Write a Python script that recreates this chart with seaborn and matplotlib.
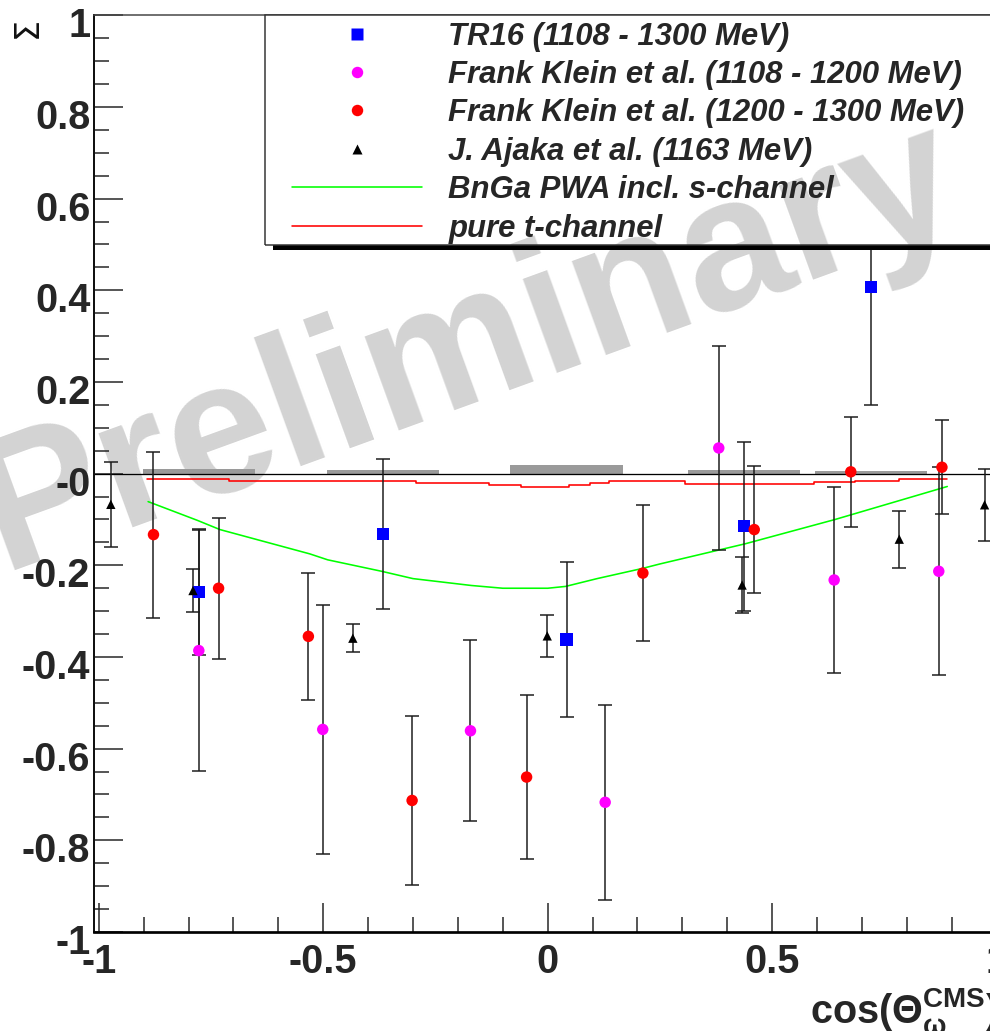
import numpy as np
import matplotlib
matplotlib.use("Agg")
import matplotlib.pyplot as plt
import matplotlib.transforms as mtransforms
from matplotlib.patches import Rectangle
from matplotlib.lines import Line2D
from matplotlib.ticker import MultipleLocator
from matplotlib.font_manager import FontProperties
import seaborn as sns

sns.set_style("ticks")
plt.rcParams.update({
    "font.family": ["Liberation Sans", "DejaVu Sans"],
    "axes.unicode_minus": False,
    "mathtext.fontset": "custom",
    "mathtext.rm": "Liberation Sans:bold",
    "mathtext.it": "Liberation Sans:bold",
    "mathtext.bf": "Liberation Sans:bold",
    "mathtext.default": "rm",
})

# ---- photon beam asymmetry Sigma vs cos(theta_omega) ----
tr16_x = [-0.777, -0.366, 0.042, 0.438, 0.720]
tr16_y = [-0.258, -0.131, -0.362, -0.115, 0.407]
tr16_err = [0.137, 0.164, 0.170, 0.184, 0.258]
tr16_sys = [0.011, 0.007, 0.018, 0.009, 0.005]
tr16_binwidth = 0.25

klein_low_x = [-0.777, -0.501, -0.172, 0.128, 0.381, 0.638, 0.871]
klein_low_y = [-0.386, -0.558, -0.561, -0.717, 0.056, -0.232, -0.213]
klein_low_err = [0.262, 0.272, 0.197, 0.213, 0.222, 0.202, 0.227]

klein_high_x = [-0.878, -0.733, -0.533, -0.302, -0.047, 0.212, 0.460, 0.675, 0.878]
klein_high_y = [-0.133, -0.250, -0.355, -0.713, -0.662, -0.217, -0.122, 0.004, 0.014]
klein_high_err = [0.181, 0.154, 0.139, 0.185, 0.179, 0.149, 0.138, 0.120, 0.102]

ajaka_x = [-0.973, -0.790, -0.434, -0.001, 0.433, 0.783, 0.973]
ajaka_y = [-0.067, -0.255, -0.359, -0.354, -0.243, -0.143, -0.068]
ajaka_err = [0.092, 0.047, 0.031, 0.045, 0.061, 0.062, 0.078]

bnga_x = [-0.89, -0.78, -0.73, -0.53, -0.49, -0.37, -0.30, -0.17, -0.10,
          0.00, 0.04, 0.11, 0.21, 0.25, 0.44, 0.64, 0.89]
bnga_y = [-0.061, -0.102, -0.122, -0.175, -0.188, -0.213, -0.229, -0.244, -0.250,
          -0.250, -0.246, -0.229, -0.207, -0.197, -0.153, -0.100, -0.028]

tchan_edges = [-0.892, -0.71, -0.293, -0.130, -0.060, 0.047, 0.094, 0.137,
               0.306, 0.399, 0.594, 0.685, 0.783, 0.889]
tchan_vals = [-0.011, -0.016, -0.0205, -0.0255, -0.029, -0.0255, -0.0205, -0.017,
              -0.022, -0.0234, -0.019, -0.016, -0.011]

legend_labels = ["TR16 (1108 - 1300 MeV)",
                 "Frank Klein et al. (1108 - 1200 MeV)",
                 "Frank Klein et al. (1200 - 1300 MeV)",
                 "J. Ajaka et al. (1163 MeV)",
                 "BnGa PWA incl. s-channel",
                 "pure t-channel"]

y_ticks = [-1.0, -0.8, -0.6, -0.4, -0.2, 0.0, 0.2, 0.4, 0.6, 0.8, 1.0]
y_ticklabels = ["-1", "-0.8", "-0.6", "-0.4", "-0.2", "-0", "0.2", "0.4", "0.6", "0.8", "1"]
x_ticks = [-1.0, -0.5, 0.0, 0.5, 1.0]
x_ticklabels = ["-1", "-0.5", "0", "0.5", "1"]

# ---- figure / frame ----
W, H, DPI = 990, 1031, 100
fig = plt.figure(figsize=(W / DPI, H / DPI), dpi=DPI, facecolor="white")
PT = 72.0 / DPI  # points per pixel

ax_l, ax_r, ax_t, ax_b = 94.3, 1001.1, 15.3, 932.0
ax = fig.add_axes([ax_l / W, (H - ax_b) / H, (ax_r - ax_l) / W, (ax_b - ax_t) / H])
ax.set_facecolor("none")
ax.set_xlim(-1.0098, 1.0098)
ax.set_ylim(-1.0, 1.0)

# watermark behind everything
wm_kw = dict(fontsize=136, fontweight="bold", color="#d3d3d3", rotation=20,
             rotation_mode="anchor", ha="center", va="baseline",
             family="Liberation Sans")
wm_pos = (485 / W, 1 - 394 / H)
fig.text(wm_pos[0], wm_pos[1], "Preliminary", zorder=-1, **wm_kw)

# systematic error blocks of TR16
ax.bar(tr16_x, tr16_sys, width=tr16_binwidth, bottom=0, color="#9a9a9a",
       linewidth=0, zorder=1.5)
ax.axhline(0, color="black", lw=1.3 * PT, zorder=2)

# model curves
sns.lineplot(x=bnga_x, y=bnga_y, color="#00ff00", lw=1.6 * PT, sort=False,
             estimator=None, ax=ax, legend=False, zorder=2.5)
sns.lineplot(x=tchan_edges, y=tchan_vals + [tchan_vals[-1]], color="#ff0000",
             lw=1.6 * PT, sort=False, estimator=None, drawstyle="steps-post",
             ax=ax, legend=False, zorder=2.5)

# data with statistical errors
series = [
    (tr16_x, tr16_y, tr16_err, "s", "#0000ff", 78),
    (klein_low_x, klein_low_y, klein_low_err, "o", "#ff00ff", 68),
    (klein_high_x, klein_high_y, klein_high_err, "o", "#ff0000", 68),
    (ajaka_x, ajaka_y, ajaka_err, "^", "#000000", 45),
]
for xs, ys, es, mk, col, sz in series:
    ax.errorbar(xs, ys, yerr=es, fmt="none", ecolor="#1a1a1a",
                elinewidth=1.5 * PT, capsize=7 * PT, capthick=1.5 * PT, zorder=3)
for xs, ys, es, mk, col, sz in series:
    sns.scatterplot(x=xs, y=ys, marker=mk, s=sz, color=col, edgecolor="none",
                    linewidth=0, ax=ax, legend=False, zorder=4)

# ---- axes styling ----
ax.spines["right"].set_visible(False)
ax.spines["top"].set_linewidth(1.5 * PT)
ax.spines["top"].set_color("#444444")
ax.spines["left"].set_linewidth(2.0 * PT)
ax.spines["left"].set_color("#111111")
ax.spines["bottom"].set_linewidth(2.7 * PT)
ax.spines["bottom"].set_color("#000000")

ax.set_xticks(x_ticks)
ax.set_xticklabels(x_ticklabels)
ax.set_yticks(y_ticks)
ax.set_yticklabels(y_ticklabels)
ax.xaxis.set_minor_locator(MultipleLocator(0.1))
ax.yaxis.set_minor_locator(MultipleLocator(0.05))
ax.tick_params(which="both", direction="in", top=False, right=False,
               color="#222222", width=1.5 * PT)
ax.tick_params(which="major", length=29 * PT)
ax.tick_params(which="minor", length=15 * PT)
ax.tick_params(axis="y", which="major", pad=4 * PT)
ax.tick_params(axis="x", which="major", pad=11 * PT)
tick_font = dict(family="Liberation Sans", weight="bold", size=28.5)
for lab in ax.get_xticklabels() + ax.get_yticklabels():
    lab.set_fontproperties(FontProperties(**tick_font))
shift = mtransforms.ScaledTranslation(0, -7 / DPI, fig.dpi_scale_trans)
for lab in ax.get_yticklabels():
    lab.set_transform(lab.get_transform() + shift)

ax.set_xlabel("")
ax.set_ylabel("")
fig.text(27 / W, 1 - 28 / H, "Σ", rotation=90, ha="center", va="center",
         fontsize=24, family="DejaVu Sans", color="#111111")
fig.text(810 / W, 1 - 1023 / H, "cos(Θ$_{ω}^{CMS}$)", ha="left", va="baseline",
         fontsize=28.5, fontweight="bold", family="Liberation Sans")

# ---- legend box with shadow ----
lg_l = (265.3 - ax_l) / (ax_r - ax_l)
lg_b = (ax_b - 245.0) / (ax_b - ax_t)
dx, dy = 8 / (ax_r - ax_l), 5 / (ax_b - ax_t)
ax.add_patch(Rectangle((lg_l + dx, lg_b - dy), 1.2, 1 - lg_b, transform=ax.transAxes,
                       facecolor="black", edgecolor="none", clip_on=False, zorder=5))
box = Rectangle((lg_l, lg_b), 1.2, 1 - lg_b, transform=ax.transAxes,
                facecolor="white", edgecolor="none", clip_on=False, zorder=6)
ax.add_patch(box)
wm2 = ax.text(wm_pos[0], wm_pos[1], "Preliminary", transform=fig.transFigure,
              zorder=6.5, **wm_kw)
wm2.set_clip_box(mtransforms.TransformedBbox(
    mtransforms.Bbox([[lg_l, lg_b], [1.2, 1.0]]), ax.transAxes))
wm2.set_clip_on(True)
ax.add_patch(Rectangle((lg_l, lg_b), 1.2, 1 - lg_b, transform=ax.transAxes,
                       facecolor="none", edgecolor="#333333", lw=1.5 * PT,
                       clip_on=False, zorder=7))

handles = [
    Line2D([], [], ls="none", marker="s", ms=np.sqrt(78), color="#0000ff", mec="none"),
    Line2D([], [], ls="none", marker="o", ms=np.sqrt(68), color="#ff00ff", mec="none"),
    Line2D([], [], ls="none", marker="o", ms=np.sqrt(68), color="#ff0000", mec="none"),
    Line2D([], [], ls="none", marker="^", ms=np.sqrt(45), color="#000000", mec="none"),
    Line2D([], [], color="#00ff00", lw=1.6 * PT),
    Line2D([], [], color="#ff0000", lw=1.6 * PT),
]
leg_size = 22.4
leg = ax.legend(handles, legend_labels, loc="upper left",
                bbox_to_anchor=(291.7 / W, 1 - 21.5 / H), bbox_transform=fig.transFigure,
                frameon=False, borderpad=0, borderaxespad=0,
                handlelength=130 / (leg_size / PT),
                handletextpad=26.6 / (leg_size / PT), labelspacing=0.27, numpoints=1,
                prop=FontProperties(family="Liberation Sans", weight="bold",
                                    style="italic", size=leg_size))
leg.set_zorder(8)

fig.savefig("out.png", dpi=DPI, facecolor="white")
